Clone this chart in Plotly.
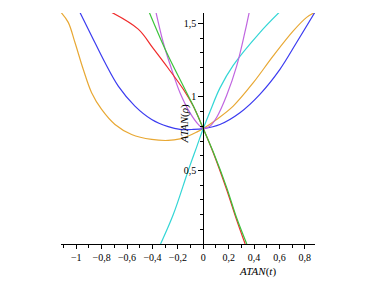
import plotly.graph_objects as go

# ---- data ----
red_x = [-0.721, -0.512, -0.394, -0.276, -0.157, -0.079, 0.0, 0.079, 0.184, 0.262, 0.330]
red_y = [1.575, 1.461, 1.330, 1.195, 1.052, 0.938, 0.785, 0.620, 0.370, 0.166, 0.0]

green_x = [-0.425, -0.288, -0.157, -0.065, 0.0, 0.079, 0.184, 0.262, 0.343]
green_y = [1.575, 1.302, 1.074, 0.915, 0.785, 0.625, 0.385, 0.180, 0.0]

violet_x = [-0.372, -0.315, -0.249, -0.183, -0.105, -0.039, 0.0, 0.052, 0.105, 0.184, 0.263, 0.328, 0.362]
violet_y = [1.575, 1.370, 1.188, 1.029, 0.893, 0.813, 0.785, 0.800, 0.860, 1.010, 1.210, 1.440, 1.575]

cyan_x = [-0.336, -0.236, -0.118, -0.050, 0.0, 0.053, 0.131, 0.236, 0.446, 0.598]
cyan_y = [0.0, 0.200, 0.500, 0.664, 0.785, 0.900, 1.060, 1.215, 1.438, 1.575]

blue_x = [-0.971, -0.879, -0.774, -0.669, -0.538, -0.406, -0.276, -0.183, -0.079, 0.0, 0.131, 0.289, 0.446, 0.604, 0.735, 0.879]
blue_y = [1.575, 1.415, 1.234, 1.074, 0.938, 0.847, 0.798, 0.779, 0.779, 0.785, 0.813, 0.893, 1.018, 1.188, 1.370, 1.575]

orange_x = [-1.120, -1.063, -1.010, -0.945, -0.879, -0.800, -0.695, -0.564, -0.406, -0.276, -0.183, -0.118, -0.052, 0.0,
            0.105, 0.236, 0.394, 0.551, 0.709, 0.814, 0.879]
orange_y = [1.575, 1.507, 1.370, 1.188, 1.029, 0.915, 0.813, 0.745, 0.711, 0.704, 0.715, 0.734, 0.761, 0.785,
            0.847, 0.938, 1.097, 1.279, 1.449, 1.541, 1.575]

x_tick_vals = [-1.0, -0.8, -0.6, -0.4, -0.2, 0.0, 0.2, 0.4, 0.6, 0.8]
x_tick_text = ["\u22121", "\u22120,8", "\u22120,6", "\u22120,4", "\u22120,2", "0", "0,2", "0,4", "0,6", "0,8"]
y_tick_vals = [0.5, 1.0, 1.5]
y_tick_text = ["0,5", "1", "1,5"]

X_RANGE = [-1.12, 0.88]
Y_RANGE = [0.0, 1.5708]

series = [
    (orange_x, orange_y, "#e8a834"),
    (blue_x, blue_y, "#3b3bf0"),
    (cyan_x, cyan_y, "#33d6d6"),
    (violet_x, violet_y, "#c066e0"),
    (red_x, red_y, "#f02a2a"),
    (green_x, green_y, "#3cc43c"),
]

fig = go.Figure()
for xs, ys, col in series:
    fig.add_trace(go.Scatter(x=xs, y=ys, mode="lines",
                             line=dict(color=col, width=1.2, shape="spline", smoothing=1.0),
                             hoverinfo="skip", showlegend=False, cliponaxis=True))

ypos = (0 - X_RANGE[0]) / (X_RANGE[1] - X_RANGE[0])

serif = "Liberation Serif, Times New Roman, serif"
fig.update_layout(
    width=368, height=283,
    margin=dict(l=53, r=61, t=5, b=47),
    paper_bgcolor="white", plot_bgcolor="white",
    xaxis=dict(range=X_RANGE, showgrid=False, zeroline=False,
               showline=True, linecolor="black", linewidth=1,
               tickvals=x_tick_vals, ticktext=x_tick_text, tickangle=0,
               ticks="outside", ticklen=4, tickcolor="black",
               minor=dict(ticks="outside", ticklen=3, dtick=0.1, tick0=0, tickcolor="black"),
               tickfont=dict(family=serif, size=10, color="black"), fixedrange=True),
    yaxis=dict(range=Y_RANGE, anchor="free", position=ypos, showgrid=False, zeroline=False,
               showline=True, linecolor="black", linewidth=1,
               tickvals=y_tick_vals, ticktext=y_tick_text,
               ticks="outside", ticklen=5, tickcolor="black",
               minor=dict(ticks="outside", ticklen=3, dtick=0.1, tick0=0, tickcolor="black"),
               tickfont=dict(family=serif, size=10, color="black"), fixedrange=True),
    annotations=[
        dict(text="<i>ATAN</i>(<i>t</i>)", x=0.43, y=0, xref="x", yref="paper",
             yshift=-27, showarrow=False, xanchor="center", yanchor="middle",
             font=dict(family=serif, size=11, color="black")),
        dict(text="<i>ATAN</i>(<i>\u03c1</i>)", x=-0.15, y=0.82, xref="x", yref="y",
             textangle=-90, showarrow=False, xanchor="center", yanchor="middle",
             font=dict(family=serif, size=11, color="black")),
    ],
)

fig.write_html("out.html")
